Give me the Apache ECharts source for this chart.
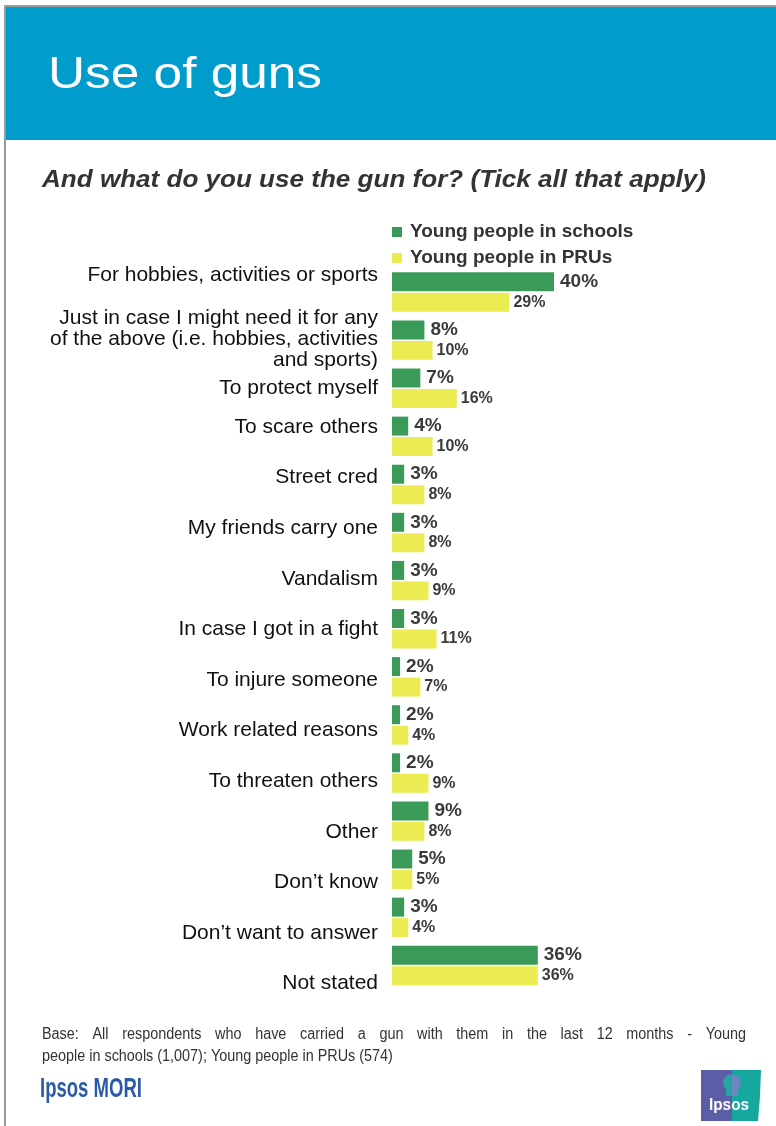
<!DOCTYPE html>
<html>
<head>
<meta charset="utf-8">
<script src="https://cdn.jsdelivr.net/npm/echarts@6/dist/echarts.min.js"></script>
<style>
  html, body { margin: 0; padding: 0; background: #ffffff; }
  #chart { width: 776px; height: 1126px; }
</style>
</head>
<body>
<div id="chart"></div>
<script>
// ---- Data ----
const categories = [
  'For hobbies, activities or sports',
  'Just in case I might need it for any\nof the above (i.e. hobbies, activities\nand sports)',
  'To protect myself',
  'To scare others',
  'Street cred',
  'My friends carry one',
  'Vandalism',
  'In case I got in a fight',
  'To injure someone',
  'Work related reasons',
  'To threaten others',
  'Other',
  'Don\u2019t know',
  'Don\u2019t want to answer',
  'Not stated'
];
const schools = [40, 8, 7, 4, 3, 3, 3, 3, 2, 2, 2, 9, 5, 3, 36];
const prus    = [29, 10, 16, 10, 8, 8, 9, 11, 7, 4, 9, 8, 5, 4, 36];
const seriesNames = ['Young people in schools', 'Young people in PRUs'];

const titleText = 'Use of guns';
const subtitleText = 'And what do you use the gun for? (Tick all that apply)';
const baseLine1 = 'Base: All respondents who have carried a gun with them in the last 12 months - Young';
const baseLine2 = 'people in schools (1,007); Young people in PRUs (574)';
const brandText = 'Ipsos MORI';
const logoText = 'Ipsos';

// ---- Styling ----
const FONT = '"Liberation Sans", Arial, Helvetica, sans-serif';
const GREEN = '#3A9A58';
const YELLOW = '#EAEC52';
const HEADER_BLUE = '#009CCC';
const LABEL_GREY = '#3a3a3a';

// text measuring, used to fit headline / footnote widths
const mctx = document.createElement('canvas').getContext('2d');
function measure(str, font) { mctx.font = font; return mctx.measureText(str).width; }

// a few category labels sit a little lower than their bar pair
const spacerFor = { 1: 's26', 2: 's24' };

const graphics = [];
// frame and header band
graphics.push({ type: 'rect', shape: { x: 6, y: 7, width: 770, height: 133 }, style: { fill: HEADER_BLUE }, silent: true });
graphics.push({ type: 'rect', shape: { x: 4, y: 5, width: 772, height: 2 }, style: { fill: '#9a9a9a' }, silent: true });
graphics.push({ type: 'rect', shape: { x: 4, y: 5, width: 2, height: 1121 }, style: { fill: '#9a9a9a' }, silent: true });

// headline
const titleFont = '44px ' + FONT;
graphics.push({
  type: 'text', x: 48, y: 76, scaleX: 274 / measure(titleText, titleFont),
  style: { text: titleText, font: titleFont, fill: '#ffffff', textVerticalAlign: 'middle' }, silent: true
});
// question
const subFont = 'italic bold 23px ' + FONT;
graphics.push({
  type: 'text', x: 42, y: 181, scaleX: 664 / measure(subtitleText, subFont),
  style: { text: subtitleText, font: subFont, fill: '#333333', textVerticalAlign: 'middle' }, silent: true
});

// footnote: first line justified between 42 and 746
const footFont = '16px ' + FONT;
const footScale = 0.9;
(function () {
  const words = baseLine1.split(' ');
  const widths = words.map(w => measure(w, footFont) * footScale);
  const total = widths.reduce((a, b) => a + b, 0);
  const gap = (746 - 42 - total) / (words.length - 1);
  let x = 42;
  words.forEach((w, i) => {
    graphics.push({
      type: 'text', x: x, y: 1035, scaleX: footScale,
      style: { text: w, font: footFont, fill: '#333333', textVerticalAlign: 'middle' }, silent: true
    });
    x += widths[i] + gap;
  });
})();
graphics.push({
  type: 'text', x: 42, y: 1057, scaleX: footScale,
  style: { text: baseLine2, font: footFont, fill: '#333333', textVerticalAlign: 'middle' }, silent: true
});

// brand wordmark, bottom left
const brandFont = 'bold 28px "Liberation Sans Narrow", ' + FONT;
graphics.push({
  type: 'text', x: 40, y: 1089, scaleX: 102 / measure(brandText, brandFont),
  style: { text: brandText, font: brandFont, fill: '#2B5BA8', textVerticalAlign: 'middle' }, silent: true
});

// logo tile, bottom right
graphics.push({ type: 'polygon', shape: { points: [[701, 1070], [732, 1070], [732, 1121], [701, 1121]] }, style: { fill: '#5B5EA7' }, silent: true });
graphics.push({ type: 'polygon', shape: { points: [[732, 1070], [761, 1070], [760, 1096], [758, 1121], [732, 1121]] }, style: { fill: '#14A89E' }, silent: true });
graphics.push({ type: 'sector', shape: { cx: 732, cy: 1083, r0: 0, r: 9, startAngle: Math.PI / 2, endAngle: Math.PI * 1.5 }, style: { fill: '#23A6A2' }, silent: true });
graphics.push({ type: 'sector', shape: { cx: 732, cy: 1083, r0: 0, r: 9, startAngle: -Math.PI / 2, endAngle: Math.PI / 2 }, style: { fill: '#6E86C4' }, silent: true });
graphics.push({ type: 'rect', shape: { x: 726, y: 1090, width: 6, height: 6 }, style: { fill: '#23A6A2' }, silent: true });
graphics.push({ type: 'rect', shape: { x: 732, y: 1090, width: 6, height: 6 }, style: { fill: '#6E86C4' }, silent: true });
const logoFont = 'bold 17px ' + FONT;
graphics.push({
  type: 'text', x: 709, y: 1105, scaleX: 40 / measure(logoText, logoFont),
  style: { text: logoText, font: logoFont, fill: '#ffffff', textVerticalAlign: 'middle' }, silent: true
});

const option = {
  animation: false,
  backgroundColor: '#ffffff',
  textStyle: { fontFamily: FONT },
  legend: {
    data: seriesNames,
    orient: 'vertical',
    left: 392,
    top: 222,
    padding: 0,
    itemWidth: 10,
    itemHeight: 10,
    itemGap: 6,
    icon: 'rect',
    selectedMode: false,
    textStyle: { fontSize: 19, fontWeight: 'bold', color: '#333333', lineHeight: 20, padding: [0, 0, 0, 3], fontFamily: FONT }
  },
  grid: [
    // bars
    { left: 392, top: 268, width: 324, height: 721.5 },
    // category labels
    { left: 380, top: 249.9, width: 10, height: 759 }
  ],
  xAxis: [
    { gridIndex: 0, type: 'value', min: 0, max: 80, show: false },
    { gridIndex: 1, type: 'value', min: 0, max: 1, show: false }
  ],
  yAxis: [
    { gridIndex: 0, type: 'category', data: categories, inverse: true, show: false },
    {
      gridIndex: 1, type: 'category', data: categories, inverse: true,
      axisLine: { show: false }, axisTick: { show: false }, splitLine: { show: false },
      axisLabel: {
        margin: 2,
        color: '#111111',
        fontSize: 21,
        fontFamily: FONT,
        formatter: function (value, index) {
          const body = value.split('\n').map(l => '{n|' + l + '}').join('\n');
          const sp = spacerFor[index];
          return sp ? '{' + sp + '| }\n' + body : body;
        },
        rich: {
          n: { fontSize: 21, lineHeight: 21, color: '#111111', fontFamily: FONT, align: 'right' },
          s26: { fontSize: 2, lineHeight: 26 },
          s24: { fontSize: 2, lineHeight: 24 }
        }
      }
    }
  ],
  series: [
    {
      name: seriesNames[0], type: 'bar', xAxisIndex: 0, yAxisIndex: 0,
      data: schools, barCategoryGap: '18%', barGap: '8%',
      itemStyle: { color: GREEN },
      label: { show: true, position: 'right', distance: 6, formatter: '{c}%', fontSize: 19, fontWeight: 'bold', color: LABEL_GREY, fontFamily: FONT }
    },
    {
      name: seriesNames[1], type: 'bar', xAxisIndex: 0, yAxisIndex: 0,
      data: prus, barCategoryGap: '18%', barGap: '8%',
      itemStyle: { color: YELLOW },
      label: { show: true, position: 'right', distance: 4, formatter: '{c}%', fontSize: 16, fontWeight: 'bold', color: LABEL_GREY, fontFamily: FONT }
    },
    {
      type: 'bar', xAxisIndex: 1, yAxisIndex: 1, data: [], silent: true
    }
  ],
  graphic: graphics
};

const chart = echarts.init(document.getElementById('chart'), null, { renderer: 'canvas' });
chart.setOption(option);
</script>
</body>
</html>
